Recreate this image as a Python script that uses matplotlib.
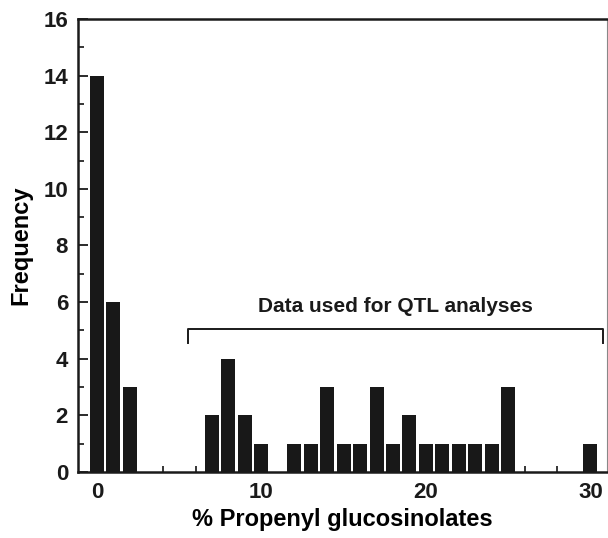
import matplotlib
matplotlib.use("Agg")
import matplotlib.pyplot as plt
from matplotlib.ticker import MultipleLocator, FixedLocator

plt.rcParams['font.family'] = ['Liberation Sans', 'DejaVu Sans']

bins = list(range(0, 31))
freq = [14, 6, 3, 0, 0, 0, 0, 2, 4, 2, 1, 0, 1, 1, 3, 1, 1, 3, 1, 2,
        1, 1, 1, 1, 1, 3, 0, 0, 0, 0, 1]
xticks = [0, 10, 20, 30]
yticks = [0, 2, 4, 6, 8, 10, 12, 14, 16]
bracket_label = "Data used for QTL analyses"
bracket_range = (5.55, 30.8)

fig = plt.figure(figsize=(6.08, 5.38), dpi=100)
ax = fig.add_axes([0.128, 0.1227, 0.87, 0.842])

ax.bar(bins, freq, width=0.85, color='#181818', edgecolor='none', zorder=3)

ax.set_xlim(-1.16, 31.0)
ax.set_ylim(0, 16)
ax.xaxis.set_major_locator(FixedLocator(xticks))
ax.xaxis.set_minor_locator(MultipleLocator(2))
ax.yaxis.set_major_locator(FixedLocator(yticks))
ax.yaxis.set_minor_locator(MultipleLocator(1))
ax.tick_params(axis='both', which='major', direction='in', length=7, width=1.3,
               labelsize=16, pad=7, colors='#1a1a1a')
ax.tick_params(axis='both', which='minor', direction='in', length=4, width=1.1)
for lab in ax.get_xticklabels() + ax.get_yticklabels():
    lab.set_fontweight('bold')

for s in ['left', 'bottom', 'top']:
    ax.spines[s].set_linewidth(1.8)
    ax.spines[s].set_color('#1a1a1a')
ax.spines['right'].set_linewidth(0.8)
ax.spines['right'].set_color('#888888')

ax.set_xlabel('% Propenyl glucosinolates', fontsize=17, fontweight='bold', labelpad=4)
ax.set_ylabel('Frequency', fontsize=17, fontweight='bold', labelpad=8)

x0, x1 = bracket_range
ax.plot([x0, x0, x1, x1], [4.55, 5.05, 5.05, 4.55], color='#1a1a1a', lw=1.4,
        clip_on=False, zorder=4)
ax.text((x0 + x1) / 2, 5.5, bracket_label, ha='center', va='bottom',
        fontsize=15, fontweight='bold', color='#1a1a1a')

fig.savefig('out.png', dpi=100)
